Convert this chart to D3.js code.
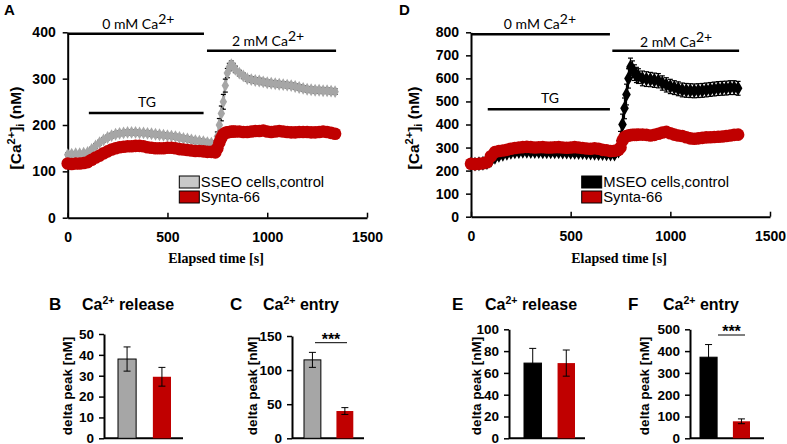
<!DOCTYPE html>
<html><head><meta charset="utf-8">
<script src="https://cdn.jsdelivr.net/npm/d3@7"></script>
<style>body{margin:0;background:#fff}svg{display:block}</style>
</head><body>
<svg id="c" width="787" height="444"></svg>
<script>
// ---------- DATA ----------
const times = [0,20,40,60,80,100,120,140,160,180,200,220,240,260,280,300,320,340,360,380,400,420,440,460,480,500,520,540,560,580,600,620,640,660,680,700,720,740,
  750,760,770,780,790,800,810,820,830,840,
  860,880,900,920,940,960,980,1000,1020,1040,1060,1080,1100,1120,1140,1160,1180,1200,1220,1240,1260,1280,1300,1320,1340];

const sseoControl = [136,137,138,138,139,141,147,155,162,168,173,177,180,182,183,184,184,184,183,183,182,181,180,179,178,177,176,175,173,171,170,168,166,165,164,162,161,160,
  175,200,225,250,285,312,325,330,326,320,
  312,306,300,298,296,295,293,291,290,289,288,287,286,285,283,281,279,277,276,275,275,274,274,273,272];
const sseoControlErr = [4,4,4,4,4,4,5,5,5,5,5,5,5,5,5,5,5,5,5,5,5,5,5,5,5,5,5,5,5,5,5,5,5,5,5,5,5,5,
  10,14,16,16,14,10,8,8,7,7,
  6,6,6,6,6,6,6,6,6,6,6,6,6,6,6,6,6,6,6,6,6,6,6,6,6];
const sseoSynta = [117,116,117,117,118,120,125,130,134,139,143,147,150,152,153,154,154,155,155,154,152,151,150,150,150,151,151,150,148,147,146,145,144,144,143,142,142,141,
  150,162,172,180,183,184,185,186,186,186,
  186,185,185,186,187,187,188,186,185,186,187,186,185,184,184,185,185,185,184,184,185,186,185,183,181];

const mseoControl = [228,228,230,232,235,245,258,266,271,275,279,281,283,284,284,283,283,283,282,282,281,281,281,280,280,279,279,278,278,277,276,275,274,274,273,272,272,285,
  330,400,470,530,600,650,640,625,615,610,
  600,597,595,592,590,580,572,565,560,555,550,548,547,546,547,548,550,552,554,556,557,558,560,560,557];
const mseoControlErr = [12,12,12,12,12,14,14,14,14,14,14,14,14,14,14,14,14,14,14,14,14,14,14,14,14,14,14,14,14,14,14,14,14,14,14,14,14,18,
  40,45,45,45,42,38,36,34,33,32,
  32,32,31,31,31,31,31,31,30,30,30,30,30,30,30,30,30,30,30,30,30,30,30,30,30];
const mseoSynta = [230,228,230,232,236,262,280,285,287,290,295,298,300,302,303,302,300,301,302,300,300,301,302,300,299,300,302,300,298,296,295,297,295,290,288,285,286,290,
  300,330,345,350,352,354,355,355,355,356,
  356,355,352,355,360,365,368,362,356,352,350,345,340,338,340,342,344,345,346,347,348,350,352,355,356];

const timeTicks = [0,500,1000,1500];
const sseoTicks = [0,100,200,300,400];
const mseoTicks = [0,100,200,300,400,500,600,700,800];

const barGroups = ["control","Synta-66"];
const releaseSSEO = [38,29.5],  releaseSSEOErr = [5.8,4.5];
const entrySSEO   = [115,40],   entrySSEOErr   = [11,5];
const releaseMSEO = [69,69],    releaseMSEOErr = [13.5,12];
const entryMSEO   = [372,78],   entryMSEOErr   = [58,11];
const releaseTicks1 = [0,10,20,30,40,50];
const entryTicks1   = [0,50,100,150];
const releaseTicks2 = [0,20,40,60,80,100];
const entryTicks2   = [0,100,200,300,400,500];

// ---------- DRAWING ----------
const svg = d3.select("#c");
const F_NUM = "'Liberation Sans', Arial, sans-serif";
const F_CAL = "Lato, 'Open Sans', sans-serif";
const F_ARIAL = "'Liberation Sans', Arial, sans-serif";
const F_SERIF = "'Liberation Serif', 'Times New Roman', serif";
const RED = "#c00000", GREY = "#a6a6a6";

function styleAxis(sel, fs){
  sel.attr("font-family",null).attr("font-size",null);
  sel.select(".domain").attr("stroke","#000").attr("stroke-width",2);
  sel.selectAll(".tick line").attr("stroke","#000").attr("stroke-width",1.5);
  sel.selectAll(".tick text").attr("fill","#000").attr("font-family",F_NUM).attr("font-weight","700").attr("font-size",fs);
}

function drawTrace(o){
  const g = svg.append("g");
  const x = d3.scaleLinear().domain([0,1500]).range([o.x0,o.x1]);
  const y = d3.scaleLinear().domain([0,o.yMax]).range([o.yB,o.yT]);

  o.notes.forEach(n=>{
    g.append("line").attr("x1",x(n.t0)).attr("x2",x(n.t1)).attr("y1",y(n.v)).attr("y2",y(n.v))
      .attr("stroke","#000").attr("stroke-width",2.5);
    const t = g.append("text").attr("x",x(n.tx)).attr("y",y(n.v)-n.dy).attr("text-anchor","middle")
      .attr("font-family",F_CAL).attr("font-size",14).attr("fill","#000");
    t.append("tspan").text(n.label);
    if(n.sup) t.append("tspan").attr("dy",-5).text(n.sup);
  });

  const ya = g.append("g").attr("transform",`translate(${o.x0},0)`)
    .call(d3.axisLeft(y).tickValues(o.yTicks).tickSize(5).tickSizeOuter(0).tickPadding(7));
  styleAxis(ya,14);
  const xa = g.append("g").attr("transform",`translate(0,${o.yB})`)
    .call(d3.axisBottom(x).tickValues(timeTicks).tickFormat(d3.format("d")).tickSizeInner(-5).tickSizeOuter(0).tickPadding(14));
  styleAxis(xa,14);

  const pts = times.map((t,i)=>({t, v:o.ctrl[i], e:o.ctrlErr[i]}));
  g.append("path").datum(pts).attr("fill","none").attr("stroke",o.ctrlColor).attr("stroke-width",2.5)
    .attr("d",d3.line().x(d=>x(d.t)).y(d=>y(d.v)));
  const eb = g.append("g").attr("stroke","#000").attr("stroke-width",1.2);
  pts.forEach(d=>{
    eb.append("line").attr("x1",x(d.t)).attr("x2",x(d.t)).attr("y1",y(d.v-d.e)).attr("y2",y(d.v+d.e));
    eb.append("line").attr("x1",x(d.t)-2.5).attr("x2",x(d.t)+2.5).attr("y1",y(d.v-d.e)).attr("y2",y(d.v-d.e));
    eb.append("line").attr("x1",x(d.t)-2.5).attr("x2",x(d.t)+2.5).attr("y1",y(d.v+d.e)).attr("y2",y(d.v+d.e));
  });
  const sym = d3.symbol().type(d3.symbolDiamond).size(o.symSize);
  g.append("g").selectAll("path").data(pts).join("path")
    .attr("transform",d=>`translate(${x(d.t)},${y(d.v)})`).attr("d",sym).attr("fill",o.ctrlColor);

  const sp = times.map((t,i)=>({t, v:o.syn[i]}));
  g.append("path").datum(sp).attr("fill","none").attr("stroke",RED).attr("stroke-width",3)
    .attr("d",d3.line().x(d=>x(d.t)).y(d=>y(d.v)));
  g.append("g").selectAll("circle").data(sp).join("circle")
    .attr("cx",d=>x(d.t)).attr("cy",d=>y(d.v)).attr("r",6.3).attr("fill",RED);

  const yl = g.append("text").attr("transform",`translate(${o.ylx},${o.yly}) rotate(-90)`).attr("text-anchor","middle")
    .attr("font-family",F_ARIAL).attr("font-weight","700").attr("font-size",15.5).attr("fill","#000");
  yl.append("tspan").text("[Ca");
  yl.append("tspan").attr("dy",-6).attr("font-size",11).text("2+");
  yl.append("tspan").attr("dy",6).text("]");
  yl.append("tspan").attr("dy",3).attr("font-size",11).text("i");
  yl.append("tspan").attr("dy",-3).text(" (nM)");

  g.append("text").attr("x",o.xlx).attr("y",263).attr("text-anchor","middle")
    .attr("font-family",F_SERIF).attr("font-weight","700").attr("font-size",14).text("Elapsed time [s]");

  g.append("text").attr("x",o.letterX).attr("y",15).attr("font-family",F_ARIAL).attr("font-weight","700")
    .attr("font-size",15).text(o.letter);

  const lg = g.append("g");
  [[o.legendFill,o.legendName],[RED,"Synta-66"]].forEach((d,i)=>{
    lg.append("rect").attr("x",o.legX).attr("y",176+i*15).attr("width",20).attr("height",12)
      .attr("fill",d[0]).attr("stroke","#000").attr("stroke-width",1);
    lg.append("text").attr("x",o.legX+21.5).attr("y",187+i*15).attr("font-family",F_ARIAL)
      .attr("font-size",14.8).text(d[1]);
  });
}

drawTrace({x0:67.7,x1:367,yB:217.7,yT:32.3,yMax:400,yTicks:sseoTicks,
  ctrl:sseoControl,ctrlErr:sseoControlErr,syn:sseoSynta,ctrlColor:GREY,symSize:48,
  notes:[{t0:0,t1:683,v:397,tx:354,dy:5,label:"0 mM Ca",sup:"2+"},
         {t0:698,t1:1345,v:360,tx:1004,dy:5,label:"2 mM Ca",sup:"2+"},
         {t0:106,t1:681,v:226,tx:397,dy:6,label:"TG"}],
  ylx:21,yly:128,xlx:216,letter:"A",letterX:4,legX:179.3,legendFill:"#c8c8c8",legendName:"SSEO cells,control"});

drawTrace({x0:471,x1:770,yB:216.7,yT:32.3,yMax:800,yTicks:mseoTicks,
  ctrl:mseoControl,ctrlErr:mseoControlErr,syn:mseoSynta,ctrlColor:"#000",symSize:64,
  notes:[{t0:0,t1:697,v:791,tx:346,dy:5,label:"0 mM Ca",sup:"2+"},
         {t0:709,t1:1345,v:720,tx:1029,dy:4,label:"2 mM Ca",sup:"2+"},
         {t0:84,t1:697,v:466,tx:396,dy:6,label:"TG"}],
  ylx:419,yly:128,xlx:619,letter:"D",letterX:399,legX:581.7,legendFill:"#000",legendName:"MSEO cells,control"});

function drawBars(o){
  const g = svg.append("g");
  const y = d3.scaleLinear().domain([0,o.yMax]).range([438.3,o.yTop]);
  const x = d3.scaleBand().domain(barGroups).range([o.b0,o.b1]).paddingInner(0.48).paddingOuter(0);
  const ya = g.append("g").attr("transform",`translate(${o.ax},0)`)
    .call(d3.axisLeft(y).tickValues(o.ticks).tickSize(5).tickSizeOuter(0).tickPadding(5));
  styleAxis(ya,13.5);
  g.append("line").attr("x1",o.ax).attr("x2",o.axEnd).attr("y1",y(0)).attr("y2",y(0)).attr("stroke","#000").attr("stroke-width",2);
  barGroups.forEach((c,i)=>{
    const fill = i===0 ? o.ctrlColor : RED;
    g.append("rect").attr("x",x(c)).attr("width",x.bandwidth()).attr("y",y(o.vals[i])).attr("height",y(0)-y(o.vals[i]))
      .attr("fill",fill).attr("stroke",i===0?"#000":"none").attr("stroke-width",1);
    const cx = x(c)+x.bandwidth()/2, lo=y(o.vals[i]-o.errs[i]), hi=y(o.vals[i]+o.errs[i]);
    g.append("line").attr("x1",cx).attr("x2",cx).attr("y1",lo).attr("y2",hi).attr("stroke","#000").attr("stroke-width",1);
    [lo,hi].forEach(yy=>g.append("line").attr("x1",cx-3.5).attr("x2",cx+3.5).attr("y1",yy).attr("y2",yy).attr("stroke","#000").attr("stroke-width",1));
  });
  g.append("text").attr("transform",`translate(${o.ylx},386) rotate(-90)`).attr("text-anchor","middle")
    .attr("font-family",F_ARIAL).attr("font-weight","700").attr("font-size",13.5).text("delta peak [nM]");
  g.append("text").attr("x",o.letterX).attr("y",309.5).attr("font-family",F_ARIAL).attr("font-weight","700")
    .attr("font-size",17).text(o.letter);
  const t = g.append("text").attr("x",o.titleX).attr("y",309.5).attr("font-family",F_ARIAL).attr("font-weight","700").attr("font-size",16);
  t.append("tspan").text("Ca");
  t.append("tspan").attr("dy",-6).attr("font-size",10.5).text("2+");
  t.append("tspan").attr("dy",6).text(" " + o.title);
  if(o.sig){
    g.append("line").attr("x1",o.sig.x1).attr("x2",o.sig.x2).attr("y1",o.sig.y).attr("y2",o.sig.y).attr("stroke","#000").attr("stroke-width",1);
    g.append("text").attr("x",(o.sig.x1+o.sig.x2)/2).attr("y",o.sig.ty).attr("text-anchor","middle")
      .attr("font-family",F_ARIAL).attr("font-weight","700").attr("font-size",16).text("***");
  }
}

drawBars({yMax:50,yTop:334,ticks:releaseTicks1,ax:104,axEnd:183,b0:118,b1:171,vals:releaseSSEO,errs:releaseSSEOErr,
  ctrlColor:GREY,ylx:72,letter:"B",letterX:49,titleX:82,title:"release"});
drawBars({yMax:150,yTop:336,ticks:entryTicks1,ax:292,axEnd:364,b0:304,b1:353.3,vals:entrySSEO,errs:entrySSEOErr,
  ctrlColor:GREY,ylx:257,letter:"C",letterX:230,titleX:263,title:"entry",sig:{x1:315,x2:347,y:342.7,ty:345}});
drawBars({yMax:100,yTop:329.3,ticks:releaseTicks2,ax:509,axEnd:585,b0:524,b1:575,vals:releaseMSEO,errs:releaseMSEOErr,
  ctrlColor:"#000",ylx:481,letter:"E",letterX:452,titleX:485,title:"release"});
drawBars({yMax:500,yTop:329.3,ticks:entryTicks2,ax:690,axEnd:764,b0:700,b1:750,vals:entryMSEO,errs:entryMSEOErr,
  ctrlColor:"#000",ylx:649,letter:"F",letterX:628,titleX:663,title:"entry",sig:{x1:718,x2:745,y:335,ty:337.4}});
</script>
</body></html>
